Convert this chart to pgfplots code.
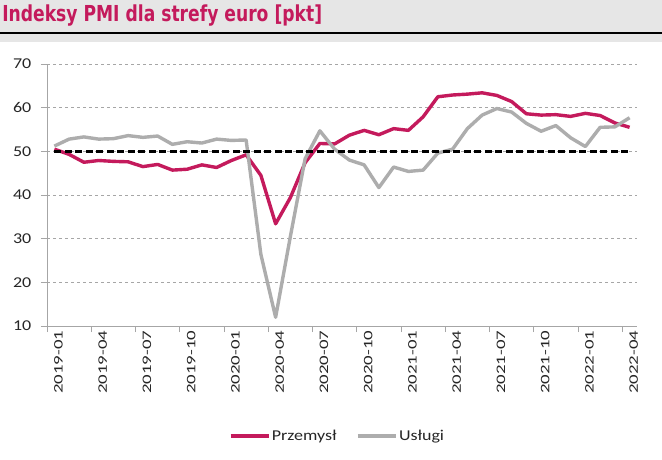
\documentclass[border=0pt]{standalone}
\usepackage{fontspec}
\usepackage{pgfplots}
\pgfplotsset{compat=1.18}
\newfontfamily\titlefont[FakeStretch=0.78]{DejaVu Sans}
\newfontfamily\lab[FakeStretch=1.2]{Carlito}
\newfontfamily\xlab[FakeStretch=1.45]{Carlito}
\definecolor{crim}{HTML}{C41A5C}
\definecolor{lgray}{HTML}{ADADAD}
\definecolor{band}{HTML}{E6E6E6}
\definecolor{axgray}{HTML}{A6A6A6}
\newlength\px \setlength\px{0.75pt}
\begin{document}
\begin{tikzpicture}
\useasboundingbox (0,0) rectangle (662\px,-460\px);
\fill[white] (0,0) rectangle (662\px,-460\px);
\fill[band] (0,0) rectangle (662\px,-42\px);
\fill[black] (0,-32\px) rectangle (662\px,-34\px);
\node[anchor=base west, inner sep=0pt, text=crim] at (2\px,-21.7\px) {\titlefont\bfseries\fontsize{22\px}{22\px}\selectfont Indeksy PMI dla strefy euro [pkt]};
\begin{axis}[
  scale only axis, width=590\px, height=262\px,
  at={(47\px,-326\px)}, anchor=south west,
  xmin=-0.5, xmax=39.5, ymin=10, ymax=70,
  axis x line=bottom, axis y line=left,
  axis line style={-, axgray, line width=0.9\px},
  ytick={10,20,...,70},
  ymajorgrids, grid style={axgray, line width=0.75\px, dash pattern=on 3\px off 3\px},
  tick align=outside, major tick length=6\px,
  tick style={axgray, line width=0.9\px},
  yticklabel style={font=\lab\fontsize{15\px}{15\px}\selectfont, text=black!85, xshift=-5\px},
  /pgf/number format/assume math mode=true,
  xtick={-0.5,2.5,...,38.5}, xticklabels={},
  extra x ticks={0,3,...,39},
  extra x tick labels={2019-01,2019-04,2019-07,2019-10,2020-01,2020-04,2020-07,2020-10,2021-01,2021-04,2021-07,2021-10,2022-01,2022-04},
  extra x tick style={major tick length=0pt},
  xticklabel style={rotate=90, anchor=east, font=\xlab\fontsize{13\px}{13\px}\selectfont, text=black!85, yshift=-4\px},
  legend style={draw=none, fill=none, at={(0.492,-0.42)}, anchor=center, legend columns=2,
    font=\lab\fontsize{15\px}{15\px}\selectfont, text=black!85,
    /tikz/every even column/.append style={column sep=18\px}, nodes={inner sep=1.5\px}},
  legend image code/.code={\draw[#1] (0,0) -- (38\px,0);},
  line join=round,
]
\addplot[crim, line width=3.4\px] coordinates {
(0,50.5) (1,49.3) (2,47.5) (3,47.9) (4,47.7) (5,47.6) (6,46.5) (7,47.0) (8,45.7) (9,45.9) (10,46.9) (11,46.3)
(12,47.9) (13,49.2) (14,44.5) (15,33.4) (16,39.4) (17,47.4) (18,51.8) (19,51.7) (20,53.7) (21,54.8) (22,53.8) (23,55.2)
(24,54.8) (25,57.9) (26,62.5) (27,62.9) (28,63.1) (29,63.4) (30,62.8) (31,61.4) (32,58.6) (33,58.3) (34,58.4) (35,58.0)
(36,58.7) (37,58.2) (38,56.5) (39,55.5)};
\addlegendentry{Przemysł}
\addplot[lgray, line width=3.4\px] coordinates {
(0,51.2) (1,52.8) (2,53.3) (3,52.8) (4,52.9) (5,53.6) (6,53.2) (7,53.5) (8,51.6) (9,52.2) (10,51.9) (11,52.8)
(12,52.5) (13,52.6) (14,26.4) (15,12.0) (16,30.5) (17,48.3) (18,54.7) (19,50.5) (20,48.0) (21,46.9) (22,41.7) (23,46.4)
(24,45.4) (25,45.7) (26,49.6) (27,50.5) (28,55.2) (29,58.3) (30,59.8) (31,59.0) (32,56.4) (33,54.6) (34,55.9) (35,53.1)
(36,51.1) (37,55.5) (38,55.6) (39,57.7)};
\addlegendentry{Usługi}
\addplot[black, line width=2.6\px, dash pattern=on 7\px off 3.5\px, forget plot] coordinates {(0,50) (39,50)};
\end{axis}
\end{tikzpicture}
\end{document}
